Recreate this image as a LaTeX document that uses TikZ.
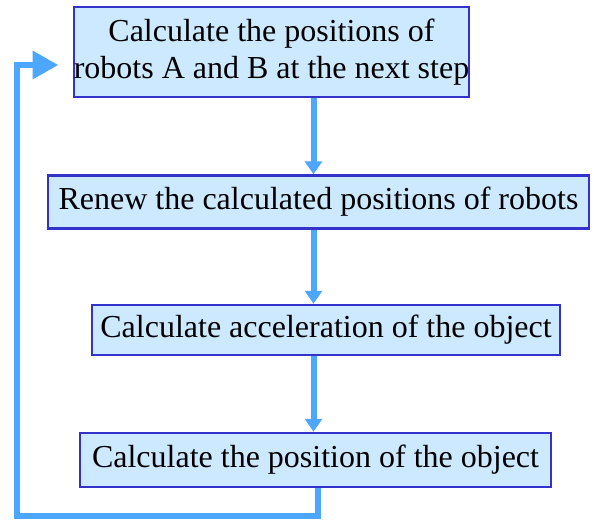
\documentclass[tikz,border=0pt]{standalone}
\usepackage{fontspec}
\setmainfont{Liberation Serif}
\usetikzlibrary{arrows.meta}
\definecolor{boxfill}{HTML}{CCE9FF}
\definecolor{boxline}{HTML}{3333CC}
\definecolor{flowblue}{HTML}{4DA6FF}

\begin{document}
\begin{tikzpicture}[x=1pt, y=-1pt,
  stepbox/.style={rectangle, draw=boxline, fill=boxfill, line width=2.5pt, inner sep=0pt, align=center, font=\rmfamily\fontsize{32}{37}\selectfont},
  flow/.style={-{Triangle[length=13pt, width=17pt]}, line width=6pt, color=flowblue},
  back/.style={-{Triangle[length=26pt, width=27pt]}, line width=6.5pt, color=flowblue}
]
\useasboundingbox (0,0) rectangle (594,522);
\node[stepbox, minimum width=389pt, minimum height=90pt] (calcpos) at (271.5,52) {Calculate the positions of\\robots A and B at the next step};
\node[stepbox, minimum width=541pt, minimum height=53pt] (renew) at (318.5,202) {Renew the calculated positions of robots};
\node[stepbox, minimum width=468pt, minimum height=50pt] (accel) at (326,330) {Calculate acceleration of the object};
\node[stepbox, minimum width=471pt, minimum height=54pt] (objpos) at (315.5,460) {Calculate the position of the object};
\coordinate (spine) at (313.5,0);
\coordinate (low) at (318,516);
\coordinate (high) at (17,65);
\draw[flow] (calcpos.south -| spine) -- (renew.north -| spine);
\draw[flow] (renew.south -| spine) -- (accel.north -| spine);
\draw[flow] (accel.south -| spine) -- (objpos.north -| spine);
\draw[back] (objpos.south -| low) -- (low) -| (high) -- ([xshift=-14pt]calcpos.west |- high);
\end{tikzpicture}
\end{document}
